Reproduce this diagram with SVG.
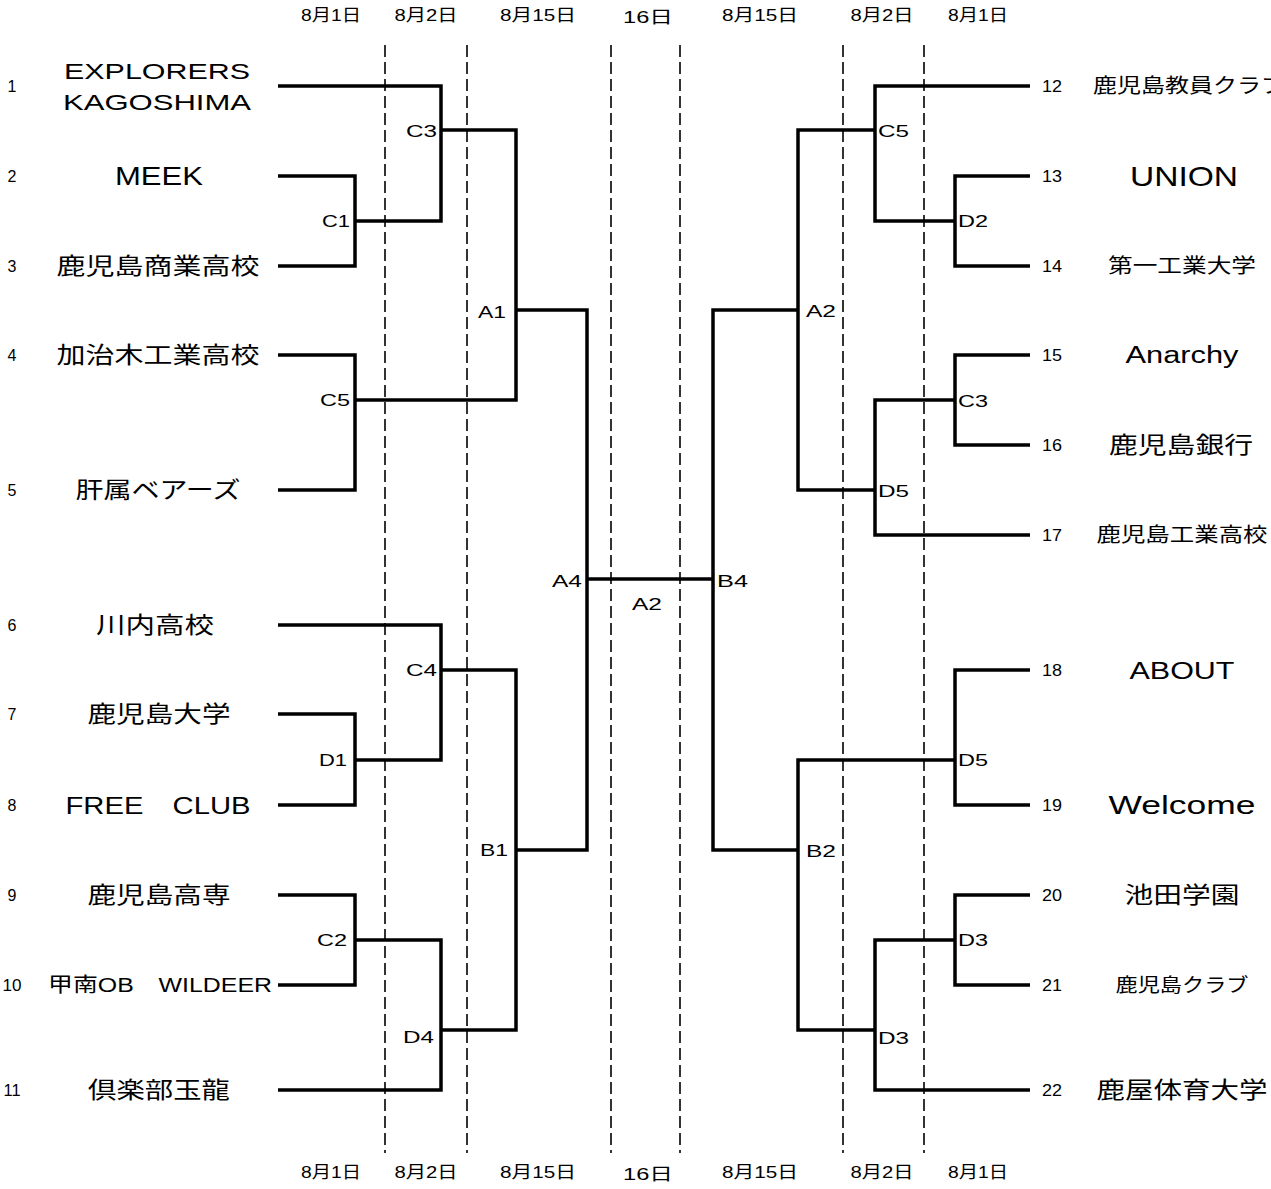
<svg xmlns="http://www.w3.org/2000/svg" width="1271" height="1189" viewBox="0 0 1271 1189">
<style>
text{font-family:"Liberation Sans","Noto Sans CJK JP",sans-serif;fill:#000;dominant-baseline:central}
.d{font-size:17px;text-anchor:middle}
.n{font-size:16px;text-anchor:middle}
.t{text-anchor:middle}
.lb{font-size:17px}
.le{text-anchor:end}
.br{fill:none;stroke:#000;stroke-width:3.5;stroke-linejoin:miter}
.dash{stroke:#000;stroke-width:1.6;stroke-dasharray:12 5}
</style>
<rect width="1271" height="1189" fill="#fff"/>
<g id="dates">
<text class="d" x="331" y="15" textLength="60" lengthAdjust="spacingAndGlyphs">8月1日</text>
<text class="d" x="426" y="15" textLength="63" lengthAdjust="spacingAndGlyphs">8月2日</text>
<text class="d" x="538" y="15" textLength="76" lengthAdjust="spacingAndGlyphs">8月15日</text>
<text class="d" x="648" y="17" textLength="50" lengthAdjust="spacingAndGlyphs">16日</text>
<text class="d" x="760" y="15" textLength="76" lengthAdjust="spacingAndGlyphs">8月15日</text>
<text class="d" x="882" y="15" textLength="63" lengthAdjust="spacingAndGlyphs">8月2日</text>
<text class="d" x="978" y="15" textLength="60" lengthAdjust="spacingAndGlyphs">8月1日</text>
<text class="d" x="331" y="1172" textLength="60" lengthAdjust="spacingAndGlyphs">8月1日</text>
<text class="d" x="426" y="1172" textLength="63" lengthAdjust="spacingAndGlyphs">8月2日</text>
<text class="d" x="538" y="1172" textLength="76" lengthAdjust="spacingAndGlyphs">8月15日</text>
<text class="d" x="648" y="1174" textLength="50" lengthAdjust="spacingAndGlyphs">16日</text>
<text class="d" x="760" y="1172" textLength="76" lengthAdjust="spacingAndGlyphs">8月15日</text>
<text class="d" x="882" y="1172" textLength="63" lengthAdjust="spacingAndGlyphs">8月2日</text>
<text class="d" x="978" y="1172" textLength="60" lengthAdjust="spacingAndGlyphs">8月1日</text>
</g>
<g id="day-dividers">
<line class="dash" x1="385" y1="45" x2="385" y2="1153"/>
<line class="dash" x1="467" y1="45" x2="467" y2="1153"/>
<line class="dash" x1="611" y1="45" x2="611" y2="1153"/>
<line class="dash" x1="680" y1="45" x2="680" y2="1153"/>
<line class="dash" x1="843" y1="45" x2="843" y2="1153"/>
<line class="dash" x1="924" y1="45" x2="924" y2="1153"/>
</g>
<g id="connectors">
<path class="br" d="M278 86H441V221H355"/>
<path class="br" d="M278 176H355V266H278"/>
<path class="br" d="M441 130H516V400H355"/>
<path class="br" d="M278 355H355V490H278"/>
<path class="br" d="M516 310H587V850H516"/>
<path class="br" d="M587 579H713"/>
<path class="br" d="M278 625H441V760H355"/>
<path class="br" d="M278 714H355V805H278"/>
<path class="br" d="M441 670H516V1030H441"/>
<path class="br" d="M278 895H355V985H278"/>
<path class="br" d="M355 940H441V1090H278"/>
<path class="br" d="M798 310H713V850H798"/>
<path class="br" d="M875 130H798V490H875"/>
<path class="br" d="M1030 86H875V221H955"/>
<path class="br" d="M1030 176H955V266H1030"/>
<path class="br" d="M1030 355H955V445H1030"/>
<path class="br" d="M955 400H875V535H1030"/>
<path class="br" d="M955 760H798V1030H875"/>
<path class="br" d="M1030 670H955V805H1030"/>
<path class="br" d="M1030 895H955V985H1030"/>
<path class="br" d="M955 940H875V1090H1030"/>
</g>
<g id="match-labels">
<text class="lb le" x="437" y="131" textLength="31" lengthAdjust="spacingAndGlyphs">C3</text>
<text class="lb le" x="350" y="221" textLength="28" lengthAdjust="spacingAndGlyphs">C1</text>
<text class="lb le" x="506" y="312" textLength="28" lengthAdjust="spacingAndGlyphs">A1</text>
<text class="lb le" x="350" y="400" textLength="30" lengthAdjust="spacingAndGlyphs">C5</text>
<text class="lb le" x="582" y="581" textLength="30" lengthAdjust="spacingAndGlyphs">A4</text>
<text class="lb le" x="437" y="670" textLength="31" lengthAdjust="spacingAndGlyphs">C4</text>
<text class="lb le" x="347" y="760" textLength="28" lengthAdjust="spacingAndGlyphs">D1</text>
<text class="lb le" x="508" y="850" textLength="28" lengthAdjust="spacingAndGlyphs">B1</text>
<text class="lb le" x="347" y="940" textLength="30" lengthAdjust="spacingAndGlyphs">C2</text>
<text class="lb le" x="434" y="1037" textLength="31" lengthAdjust="spacingAndGlyphs">D4</text>
<text class="lb" x="878" y="131" textLength="31" lengthAdjust="spacingAndGlyphs">C5</text>
<text class="lb" x="958" y="221" textLength="30" lengthAdjust="spacingAndGlyphs">D2</text>
<text class="lb" x="806" y="311" textLength="30" lengthAdjust="spacingAndGlyphs">A2</text>
<text class="lb" x="958" y="401" textLength="30" lengthAdjust="spacingAndGlyphs">C3</text>
<text class="lb" x="878" y="491" textLength="31" lengthAdjust="spacingAndGlyphs">D5</text>
<text class="lb" x="717" y="581" textLength="31" lengthAdjust="spacingAndGlyphs">B4</text>
<text class="lb" x="958" y="760" textLength="30" lengthAdjust="spacingAndGlyphs">D5</text>
<text class="lb" x="806" y="851" textLength="30" lengthAdjust="spacingAndGlyphs">B2</text>
<text class="lb" x="958" y="940" textLength="30" lengthAdjust="spacingAndGlyphs">D3</text>
<text class="lb" x="878" y="1038" textLength="31" lengthAdjust="spacingAndGlyphs">D3</text>
<text class="lb t" x="647" y="604" textLength="30" lengthAdjust="spacingAndGlyphs">A2</text>
</g>
<g id="team-1"><text class="n" x="12" y="86">1</text><text class="t" x="157" y="71" font-size="22" textLength="186" lengthAdjust="spacingAndGlyphs">EXPLORERS</text><text class="t" x="157" y="102" font-size="22" textLength="188" lengthAdjust="spacingAndGlyphs">KAGOSHIMA</text></g>
<g id="team-2"><text class="n" x="12" y="176">2</text><text class="t" x="159" y="176" font-size="25" textLength="88" lengthAdjust="spacingAndGlyphs">MEEK</text></g>
<g id="team-3"><text class="n" x="12" y="266">3</text><text class="t" x="158" y="266" font-size="23" textLength="203" lengthAdjust="spacingAndGlyphs">鹿児島商業高校</text></g>
<g id="team-4"><text class="n" x="12" y="355">4</text><text class="t" x="158" y="355" font-size="23" textLength="203" lengthAdjust="spacingAndGlyphs">加治木工業高校</text></g>
<g id="team-5"><text class="n" x="12" y="490">5</text><text class="t" x="158" y="490" font-size="23" textLength="165" lengthAdjust="spacingAndGlyphs">肝属ベアーズ</text></g>
<g id="team-6"><text class="n" x="12" y="625">6</text><text class="t" x="155" y="625" font-size="23" textLength="118" lengthAdjust="spacingAndGlyphs">川内高校</text></g>
<g id="team-7"><text class="n" x="12" y="714">7</text><text class="t" x="159" y="714" font-size="23" textLength="143" lengthAdjust="spacingAndGlyphs">鹿児島大学</text></g>
<g id="team-8"><text class="n" x="12" y="805">8</text><text class="t" x="158" y="805" font-size="24" textLength="185" lengthAdjust="spacingAndGlyphs">FREE　CLUB</text></g>
<g id="team-9"><text class="n" x="12" y="895">9</text><text class="t" x="159" y="895" font-size="23" textLength="143" lengthAdjust="spacingAndGlyphs">鹿児島高専</text></g>
<g id="team-10"><text class="n" x="12" y="985" textLength="19" lengthAdjust="spacingAndGlyphs">10</text><text class="t" x="160" y="985" font-size="20" textLength="224" lengthAdjust="spacingAndGlyphs">甲南OB　WILDEER</text></g>
<g id="team-11"><text class="n" x="12" y="1090" textLength="17" lengthAdjust="spacingAndGlyphs">11</text><text class="t" x="159" y="1090" font-size="23" textLength="142" lengthAdjust="spacingAndGlyphs">倶楽部玉龍</text></g>
<g id="team-12"><text class="n" x="1052" y="86" textLength="20" lengthAdjust="spacingAndGlyphs">12</text><text x="1093" y="86" font-size="20" textLength="192" lengthAdjust="spacingAndGlyphs">鹿児島教員クラブ</text></g>
<g id="team-13"><text class="n" x="1052" y="176" textLength="20" lengthAdjust="spacingAndGlyphs">13</text><text class="t" x="1184" y="176" font-size="28" textLength="108" lengthAdjust="spacingAndGlyphs">UNION</text></g>
<g id="team-14"><text class="n" x="1052" y="266" textLength="20" lengthAdjust="spacingAndGlyphs">14</text><text class="t" x="1182" y="266" font-size="20" textLength="148" lengthAdjust="spacingAndGlyphs">第一工業大学</text></g>
<g id="team-15"><text class="n" x="1052" y="355" textLength="20" lengthAdjust="spacingAndGlyphs">15</text><text class="t" x="1182" y="355" font-size="23" textLength="113" lengthAdjust="spacingAndGlyphs">Anarchy</text></g>
<g id="team-16"><text class="n" x="1052" y="445" textLength="20" lengthAdjust="spacingAndGlyphs">16</text><text class="t" x="1181" y="445" font-size="23" textLength="144" lengthAdjust="spacingAndGlyphs">鹿児島銀行</text></g>
<g id="team-17"><text class="n" x="1052" y="535" textLength="20" lengthAdjust="spacingAndGlyphs">17</text><text class="t" x="1182" y="535" font-size="20" textLength="171" lengthAdjust="spacingAndGlyphs">鹿児島工業高校</text></g>
<g id="team-18"><text class="n" x="1052" y="670" textLength="20" lengthAdjust="spacingAndGlyphs">18</text><text class="t" x="1182" y="670" font-size="24" textLength="105" lengthAdjust="spacingAndGlyphs">ABOUT</text></g>
<g id="team-19"><text class="n" x="1052" y="805" textLength="20" lengthAdjust="spacingAndGlyphs">19</text><text class="t" x="1182" y="805" font-size="26" textLength="147" lengthAdjust="spacingAndGlyphs">Welcome</text></g>
<g id="team-20"><text class="n" x="1052" y="895" textLength="20" lengthAdjust="spacingAndGlyphs">20</text><text class="t" x="1182" y="895" font-size="23" textLength="115" lengthAdjust="spacingAndGlyphs">池田学園</text></g>
<g id="team-21"><text class="n" x="1052" y="985" textLength="20" lengthAdjust="spacingAndGlyphs">21</text><text class="t" x="1182" y="985" font-size="19" textLength="133" lengthAdjust="spacingAndGlyphs">鹿児島クラブ</text></g>
<g id="team-22"><text class="n" x="1052" y="1090" textLength="20" lengthAdjust="spacingAndGlyphs">22</text><text class="t" x="1182" y="1090" font-size="23" textLength="171" lengthAdjust="spacingAndGlyphs">鹿屋体育大学</text></g>
</svg>
